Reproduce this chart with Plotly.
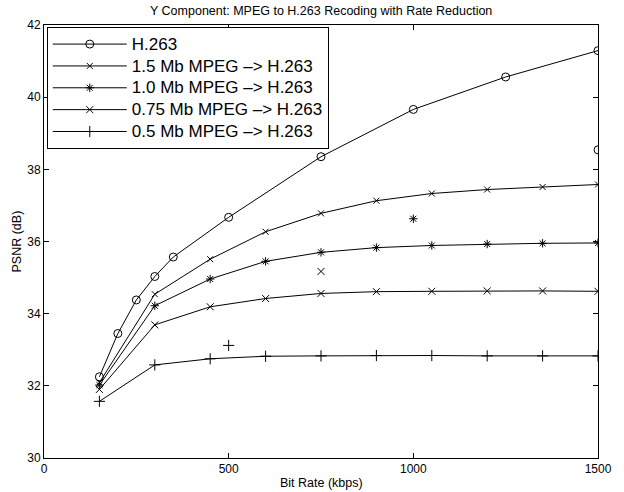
import plotly.graph_objects as go

# ---- data ----
h263_rate = [150, 200, 250, 300, 350, 500, 750, 1000, 1250, 1500]
h263_psnr = [32.25, 33.45, 34.38, 35.03, 35.57, 36.67, 38.35, 39.66, 40.56, 41.29]

recode_rate = [150, 300, 450, 600, 750, 900, 1050, 1200, 1350, 1500]
mpeg15_psnr = [32.09, 34.54, 35.51, 36.27, 36.78, 37.13, 37.33, 37.44, 37.51, 37.58]
mpeg10_psnr = [32.02, 34.22, 34.96, 35.45, 35.70, 35.83, 35.89, 35.93, 35.95, 35.96]
mpeg075_psnr = [31.90, 33.69, 34.19, 34.42, 34.56, 34.61, 34.62, 34.63, 34.63, 34.62]
mpeg05_psnr = [31.57, 32.58, 32.75, 32.82, 32.83, 32.84, 32.84, 32.83, 32.83, 32.83]

# single stray points (no connecting line)
stray_h263_rate = [1500]
stray_h263_psnr = [38.54]
stray_10_rate = [1000]
stray_10_psnr = [36.63]
stray_15_rate = [750]
stray_15_psnr = [35.17]
stray_05_rate = [500]
stray_05_psnr = [33.12]

series_names = ["H.263", "1.5 Mb MPEG \u2013> H.263", "1.0 Mb MPEG \u2013> H.263",
                "0.75 Mb MPEG \u2013> H.263", "0.5 Mb MPEG \u2013> H.263"]

x_ticks = [0, 500, 1000, 1500]
y_ticks = [30, 32, 34, 36, 38, 40, 42]

FONT = "Liberation Sans, Arial, Helvetica, sans-serif"

fig = go.Figure()

specs = [
    (h263_rate, h263_psnr, "circle-open", 8),
    (recode_rate, mpeg15_psnr, "x-thin-open", 6),
    (recode_rate, mpeg10_psnr, "asterisk-open", 7),
    (recode_rate, mpeg075_psnr, "x-thin-open", 7),
    (recode_rate, mpeg05_psnr, "cross-thin-open", 8),
]
for (xs, ys, sym, sz), name in zip(specs, series_names):
    fig.add_trace(go.Scatter(
        x=xs, y=ys, mode="lines+markers",
        name='<span style="font-size:17px">' + name + '</span>',
        line=dict(color="black", width=1),
        marker=dict(symbol=sym, size=sz, color="black", line=dict(color="black", width=1)),
    ))

strays = [
    (stray_h263_rate, stray_h263_psnr, "circle-open", 8),
    (stray_10_rate, stray_10_psnr, "asterisk-open", 7),
    (stray_15_rate, stray_15_psnr, "x-thin-open", 7),
    (stray_05_rate, stray_05_psnr, "cross-thin-open", 8),
]
for xs, ys, sym, sz in strays:
    fig.add_trace(go.Scatter(
        x=xs, y=ys, mode="markers", showlegend=False,
        marker=dict(symbol=sym, size=sz, color="black", line=dict(color="black", width=1)),
    ))

axis_common = dict(
    showline=True, linecolor="black", linewidth=1, mirror="allticks",
    ticks="inside", ticklen=5, tickcolor="black", tickwidth=1,
    showgrid=False, zeroline=False,
    tickfont=dict(family=FONT, size=12, color="black"),
)

fig.update_layout(
    width=624, height=492,
    margin=dict(l=44, r=16, t=25, b=34),
    paper_bgcolor="white", plot_bgcolor="white",
    font=dict(family=FONT, color="black"),
    xaxis=dict(range=[0, 1500], tickvals=x_ticks, **axis_common),
    yaxis=dict(range=[30, 42], tickvals=y_ticks, **axis_common),
    legend=dict(
        x=0.005, y=0.995, xanchor="left", yanchor="top",
        bgcolor="white", bordercolor="black", borderwidth=1,
        font=dict(family=FONT, size=14.5, color="black"),
        itemwidth=74, tracegroupgap=0,
    ),
    showlegend=True,
    annotations=[
        dict(text="Y Component: MPEG to H.263 Recoding with Rate Reduction",
             xref="paper", yref="paper", x=0.5, y=1, yshift=14,
             xanchor="center", yanchor="middle", showarrow=False,
             font=dict(family=FONT, size=12.5, color="black")),
        dict(text="Bit Rate (kbps)", xref="paper", yref="paper", x=0.5, y=0,
             yshift=-25, xanchor="center", yanchor="middle", showarrow=False,
             font=dict(family=FONT, size=12.5, color="black")),
        dict(text="PSNR (dB)", xref="paper", yref="paper", x=0, y=0.5,
             xshift=-28, xanchor="center", yanchor="middle", textangle=-90,
             showarrow=False, font=dict(family=FONT, size=12.5, color="black")),
    ],
)

fig.write_html("out.html")
